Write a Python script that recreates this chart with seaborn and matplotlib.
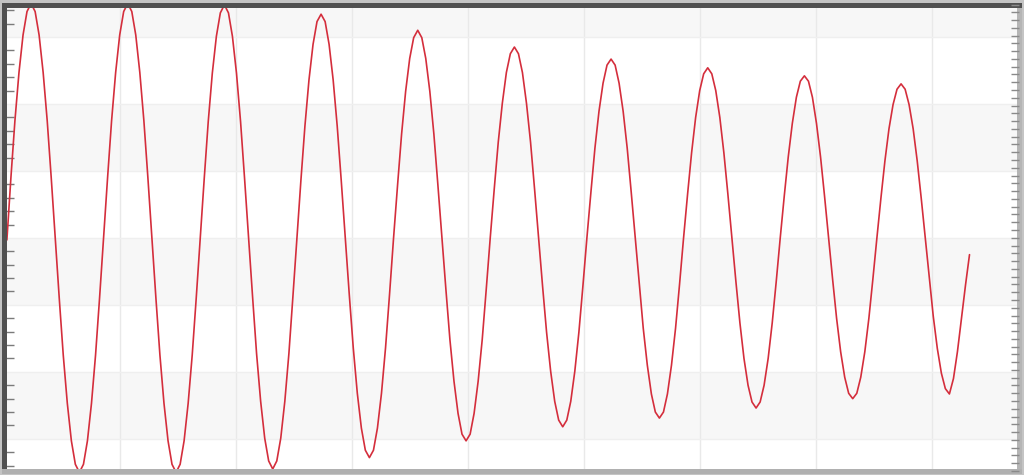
import matplotlib
matplotlib.use('Agg')
import matplotlib.pyplot as plt
import seaborn as sns
from matplotlib.ticker import MultipleLocator, NullFormatter

# sample times (ms) and signal (V)
time_ms = [
    0.030, 0.072, 0.113, 0.155, 0.197, 0.238, 0.280, 0.322, 0.363, 0.405, 0.447, 0.488,
    0.530, 0.572, 0.613, 0.655, 0.697, 0.738, 0.780, 0.822, 0.863, 0.905, 0.947, 0.988,
    1.030, 1.072, 1.113, 1.155, 1.197, 1.238, 1.280, 1.322, 1.363, 1.405, 1.447, 1.488,
    1.530, 1.572, 1.613, 1.655, 1.697, 1.738, 1.780, 1.822, 1.863, 1.905, 1.947, 1.988,
    2.030, 2.072, 2.113, 2.155, 2.197, 2.238, 2.280, 2.322, 2.363, 2.405, 2.447, 2.488,
    2.530, 2.572, 2.613, 2.655, 2.697, 2.738, 2.780, 2.822, 2.863, 2.905, 2.947, 2.988,
    3.030, 3.072, 3.113, 3.155, 3.197, 3.238, 3.280, 3.322, 3.363, 3.405, 3.447, 3.488,
    3.530, 3.572, 3.613, 3.655, 3.697, 3.738, 3.780, 3.822, 3.863, 3.905, 3.947, 3.988,
    4.030, 4.072, 4.113, 4.155, 4.197, 4.238, 4.280, 4.322, 4.363, 4.405, 4.447, 4.488,
    4.530, 4.572, 4.613, 4.655, 4.697, 4.738, 4.780, 4.822, 4.863, 4.905, 4.947, 4.988,
    5.030, 5.072, 5.113, 5.155, 5.197, 5.238, 5.280, 5.322, 5.363, 5.405, 5.447, 5.488,
    5.530, 5.572, 5.613, 5.655, 5.697, 5.738, 5.780, 5.822, 5.863, 5.905, 5.947, 5.988,
    6.030, 6.072, 6.113, 6.155, 6.197, 6.238, 6.280, 6.322, 6.363, 6.405, 6.447, 6.488,
    6.530, 6.572, 6.613, 6.655, 6.697, 6.738, 6.780, 6.822, 6.863, 6.905, 6.947, 6.988,
    7.030, 7.072, 7.113, 7.155, 7.197, 7.238, 7.280, 7.322, 7.363, 7.405, 7.447, 7.488,
    7.530, 7.572, 7.613, 7.655, 7.697, 7.738, 7.780, 7.822, 7.863, 7.905, 7.947, 7.988,
    8.030, 8.072, 8.113, 8.155, 8.197, 8.238, 8.280, 8.322, 8.363, 8.405, 8.447, 8.488,
    8.530, 8.572, 8.613, 8.655, 8.697, 8.738, 8.780, 8.822, 8.863, 8.905, 8.947, 8.988,
    9.030, 9.072, 9.113, 9.155, 9.197, 9.238, 9.280, 9.322, 9.363, 9.405, 9.447, 9.488,
    9.530, 9.572, 9.613, 9.655, 9.697, 9.738, 9.780, 9.822, 9.863, 9.905, 9.947, 9.988,
]
volts = [
    -0.03, 0.91, 1.75, 2.47, 3.03, 3.38, 3.50, 3.38, 3.03, 2.47, 1.75, 0.91,
    0.00, -0.91, -1.75, -2.47, -3.03, -3.38, -3.50, -3.38, -3.03, -2.47, -1.75, -0.91,
    0.00, 0.91, 1.75, 2.47, 3.03, 3.38, 3.50, 3.38, 3.03, 2.47, 1.75, 0.91,
    0.00, -0.91, -1.75, -2.47, -3.03, -3.38, -3.50, -3.38, -3.03, -2.47, -1.75, -0.91,
    0.00, 0.90, 1.74, 2.46, 3.01, 3.36, 3.48, 3.36, 3.01, 2.46, 1.74, 0.90,
    0.00, -0.89, -1.73, -2.44, -2.99, -3.33, -3.45, -3.33, -2.99, -2.44, -1.73, -0.89,
    0.00, 0.87, 1.67, 2.36, 2.89, 3.23, 3.34, 3.23, 2.89, 2.36, 1.67, 0.87,
    0.00, -0.85, -1.64, -2.32, -2.84, -3.17, -3.28, -3.17, -2.84, -2.32, -1.64, -0.85,
    0.00, 0.80, 1.55, 2.19, 2.68, 2.99, 3.10, 2.99, 2.68, 2.19, 1.55, 0.80,
    0.00, -0.78, -1.52, -2.14, -2.62, -2.93, -3.03, -2.93, -2.62, -2.14, -1.52, -0.78,
    0.00, 0.74, 1.43, 2.01, 2.47, 2.75, 2.85, 2.75, 2.47, 2.01, 1.43, 0.74,
    0.00, -0.73, -1.41, -1.99, -2.44, -2.72, -2.82, -2.72, -2.44, -1.99, -1.41, -0.73,
    0.00, 0.69, 1.34, 1.89, 2.31, 2.58, 2.67, 2.58, 2.31, 1.89, 1.34, 0.69,
    0.00, -0.70, -1.35, -1.90, -2.33, -2.60, -2.69, -2.60, -2.33, -1.90, -1.35, -0.70,
    0.00, 0.66, 1.27, 1.80, 2.20, 2.45, 2.54, 2.45, 2.20, 1.80, 1.27, 0.66,
    0.00, -0.66, -1.27, -1.80, -2.20, -2.45, -2.54, -2.45, -2.20, -1.80, -1.27, -0.66,
    0.00, 0.63, 1.21, 1.71, 2.10, 2.34, 2.42, 2.34, 2.10, 1.71, 1.21, 0.63,
    0.00, -0.62, -1.20, -1.70, -2.08, -2.32, -2.40, -2.32, -2.08, -1.70, -1.20, -0.62,
    0.00, 0.60, 1.15, 1.63, 1.99, 2.22, 2.30, 2.22, 1.99, 1.63, 1.15, 0.60,
    0.00, -0.60, -1.17, -1.65, -2.02, -2.25, -2.33, -2.10, -1.70, -1.20, -0.70, -0.25,
]

# shaded horizontal bands (V)
band_lo = [3, 1, -1, -3]
band_hi = [4, 2, 0, -2]

sns.set_style('white')

fig = plt.figure(figsize=(10.24, 4.75), dpi=100, facecolor='#c4c4c4')
ax = fig.add_axes([4 / 1024, 4 / 475, 1015 / 1024, 466.5 / 475])
ax.set_facecolor('white')

for lo, hi in zip(band_lo, band_hi):
    ax.axhspan(lo, hi, color='#f7f7f7', lw=0, zorder=0)

sns.lineplot(x=time_ms, y=volts, ax=ax, color='#d42e3c', lw=1.2,
             sort=False, estimator=None, zorder=3)

ax.set_xlim(0, 10.5)
ax.set_ylim(-3.48, 3.485)

ax.xaxis.set_major_locator(MultipleLocator(1.2))
ax.yaxis.set_major_locator(MultipleLocator(1))
ax.yaxis.set_minor_locator(MultipleLocator(0.2))
ax.xaxis.set_major_formatter(NullFormatter())
ax.yaxis.set_major_formatter(NullFormatter())
ax.grid(True, which='major', axis='x', color='#e9e9e9', lw=1)
ax.grid(True, which='major', axis='y', color='#efefef', lw=1)
ax.tick_params(axis='x', length=0)
ax.tick_params(axis='y', which='major', length=0)
ax.tick_params(axis='y', which='minor', direction='in', length=7.5,
               width=1, color='#7a7a7a', left=True, right=False)

ax.spines['left'].set_color('#505050')
ax.spines['top'].set_color('#505050')
ax.spines['right'].set_color('#b5b5b5')
ax.spines['bottom'].set_color('#b0b0b0')
for s in ax.spines.values():
    s.set_linewidth(3.6)
    s.set_zorder(5)

# fine ticks on the right edge
ax2 = ax.twinx()
ax2.set_ylim(0, 60)
ax2.yaxis.set_major_locator(MultipleLocator(1))
ax2.yaxis.set_major_formatter(NullFormatter())
ax2.tick_params(axis='y', direction='in', length=5.8, width=1, color='#8a8a8a')
for s in ax2.spines.values():
    s.set_visible(False)

ax.set_xlabel('')
ax.set_ylabel('')

plt.savefig('out.png', dpi=100, facecolor=fig.get_facecolor())
